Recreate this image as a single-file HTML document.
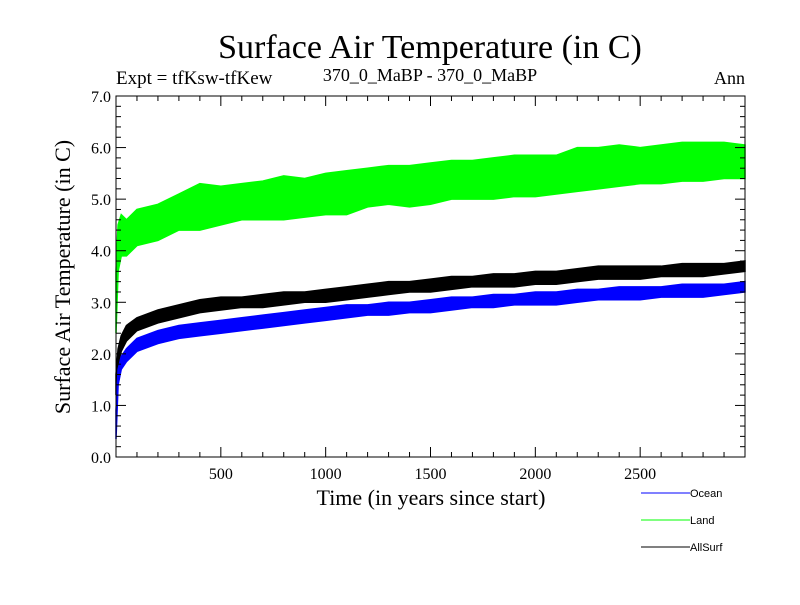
<!DOCTYPE html>
<html><head><meta charset="utf-8"><style>
body{margin:0;background:#fff}
svg text{font-family:"Liberation Serif",serif}
svg text.sans{font-family:"Liberation Sans",sans-serif}
</style></head><body>
<svg id="c" width="800" height="600" xmlns="http://www.w3.org/2000/svg">
<text x="430" y="58" font-size="34" text-anchor="middle">Surface Air Temperature (in C)</text>
<text x="116" y="84" font-size="19">Expt = tfKsw-tfKew</text>
<text x="430" y="81" font-size="18" text-anchor="middle">370_0_MaBP - 370_0_MaBP</text>
<text x="745" y="84" font-size="18" text-anchor="end">Ann</text>
<text transform="translate(70,277) rotate(-90)" font-size="22" text-anchor="middle">Surface Air Temperature (in C)</text>
<text x="431" y="505" font-size="22" text-anchor="middle">Time (in years since start)</text>
<g id="plot"></g>
<g id="axes"></g>
<g font-size="11">
<g><line x1="641" y1="493" x2="690" y2="493" stroke="#00f"/><text class="sans" x="690" y="497">Ocean</text></g>
<g><line x1="641" y1="520" x2="690" y2="520" stroke="#0f0"/><text class="sans" x="690" y="524">Land</text></g>
<g><line x1="641" y1="547" x2="690" y2="547" stroke="#000"/><text class="sans" x="690" y="551">AllSurf</text></g>
</g>
</svg>
<script>
const years=[0,10,25,50,100,200,300,400,500,600,700,800,900,1000,1100,1200,1300,1400,1500,1600,1700,1800,1900,2000,2100,2200,2300,2400,2500,2600,2700,2800,2900,3000];
const landLo=[2.4,3.6,3.9,3.9,4.1,4.2,4.4,4.4,4.5,4.6,4.6,4.6,4.65,4.7,4.7,4.85,4.9,4.85,4.9,5.0,5.0,5.0,5.05,5.05,5.1,5.15,5.2,5.25,5.3,5.3,5.35,5.35,5.4,5.4];
const landHi=[3.6,4.5,4.7,4.6,4.8,4.9,5.1,5.3,5.25,5.3,5.35,5.45,5.4,5.5,5.55,5.6,5.65,5.65,5.7,5.75,5.75,5.8,5.85,5.85,5.85,6.0,6.0,6.05,6.0,6.05,6.1,6.1,6.1,6.05];
const allLo=[1.2,1.8,2.05,2.25,2.45,2.6,2.7,2.8,2.85,2.9,2.9,2.95,3.0,3.0,3.05,3.1,3.15,3.2,3.2,3.25,3.3,3.3,3.3,3.35,3.35,3.4,3.45,3.45,3.45,3.5,3.5,3.5,3.55,3.6];
const allHi=[1.6,2.1,2.35,2.55,2.7,2.85,2.95,3.05,3.1,3.1,3.15,3.2,3.2,3.25,3.3,3.35,3.4,3.4,3.45,3.5,3.5,3.55,3.55,3.6,3.6,3.65,3.7,3.7,3.7,3.7,3.75,3.75,3.75,3.8];
const oceLo=[0.35,1.4,1.7,1.85,2.05,2.2,2.3,2.35,2.4,2.45,2.5,2.55,2.6,2.65,2.7,2.75,2.75,2.8,2.8,2.85,2.9,2.9,2.95,2.95,2.95,3.0,3.05,3.05,3.05,3.1,3.1,3.1,3.15,3.2];
const oceHi=[0.9,1.7,1.95,2.1,2.3,2.45,2.55,2.6,2.65,2.7,2.75,2.8,2.85,2.9,2.95,2.95,3.0,3.0,3.05,3.1,3.1,3.15,3.15,3.2,3.2,3.25,3.25,3.3,3.3,3.3,3.35,3.35,3.35,3.4];
const xTicks=[500,1000,1500,2000,2500];
const yTicks=[0,1,2,3,4,5,6,7];
const NS="http://www.w3.org/2000/svg";
const X0=116,X1=745,Y0=457,Y1=96;
const xs=v=>X0+(v/3000)*(X1-X0);
const ys=v=>Y0-(v/7)*(Y0-Y1);
const plot=document.getElementById('plot'),axes=document.getElementById('axes');
function band(lo,hi,col,name){
  let pts=years.map((y,i)=>xs(y)+','+ys(hi[i]));
  for(let i=years.length-1;i>=0;i--)pts.push(xs(years[i])+','+ys(lo[i]));
  const p=document.createElementNS(NS,'polygon');
  p.setAttribute('points',pts.join(' '));
  p.setAttribute('fill',col);p.setAttribute('stroke',col);p.setAttribute('stroke-width','1.5');
  
  
  plot.appendChild(p);
}
band(landLo,landHi,'#0f0','land-series');
band(allLo,allHi,'#000','allsurf-series');
band(oceLo,oceHi,'#00f','ocean-series');
function ln(x1,y1,x2,y2){const l=document.createElementNS(NS,'line');
l.setAttribute('x1',x1);l.setAttribute('y1',y1);l.setAttribute('x2',x2);l.setAttribute('y2',y2);
l.setAttribute('stroke','#000');l.setAttribute('stroke-width','1');


axes.appendChild(l);}
const fr=document.createElementNS(NS,'rect');
fr.setAttribute('x',X0);fr.setAttribute('y',Y1);fr.setAttribute('width',X1-X0);fr.setAttribute('height',Y0-Y1);
fr.setAttribute('fill','none');fr.setAttribute('stroke','#000');


axes.appendChild(fr);
for(let v=100;v<3000;v+=100){const x=xs(v),L=v%500===0?10:5;ln(x,Y0,x,Y0-L);ln(x,Y1,x,Y1+L);}
for(let v=0.2;v<7;v+=0.2){const y=ys(v),L=Math.abs(v-Math.round(v))<0.01?10:5;ln(X0,y,X0+L,y);ln(X1,y,X1-L,y);}
function txt(x,y,s,anchor,name){const t=document.createElementNS(NS,'text');
t.setAttribute('x',x);t.setAttribute('y',y);t.setAttribute('font-size','16');t.setAttribute('text-anchor',anchor);t.textContent=s;


axes.appendChild(t);}
xTicks.forEach(v=>txt(xs(v),Y0+22,String(v),'middle','x-tick-label'));
yTicks.forEach(v=>txt(X0-5,ys(v)+6,v.toFixed(1),'end','y-tick-label'));
</script>
</body></html>
